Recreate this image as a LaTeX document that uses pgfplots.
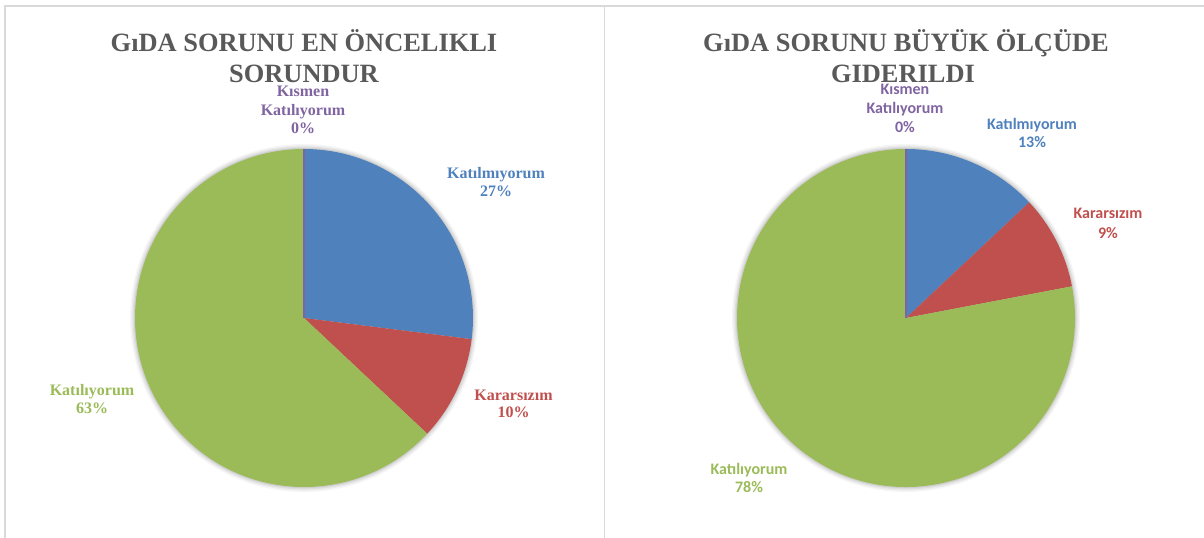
\documentclass[border=0pt]{standalone}
\usepackage{fontspec}
\setmainfont{Liberation Serif}
\newfontfamily\carl{Carlito}
\usepackage{pgfplots}
\pgfplotsset{compat=1.18}
\definecolor{pblue}{HTML}{4F81BD}
\definecolor{pred}{HTML}{C0504D}
\definecolor{pgreen}{HTML}{9BBB59}
\definecolor{ppurple}{HTML}{8064A2}
\definecolor{titlegray}{HTML}{595959}
\definecolor{bordergray}{HTML}{D9D9D9}
% slice: #1 = cumulative percent before, #2 = percent, #3 = colour
\newcommand\slice[3]{%
  \pgfmathsetmacro\sa{90-3.6*(#1)}%
  \pgfmathsetmacro\ea{90-3.6*(#1+#2)}%
  \edef\tmp{\noexpand\fill[#3] (axis cs:0,0) -- (axis cs:{169*cos(\sa)},{169*sin(\sa)}) arc[start angle=\sa, end angle=\ea, radius=126.75pt] -- cycle;}\tmp}
\newcommand\zeroslice[2]{%
  \pgfmathsetmacro\sa{90-3.6*(#1)}%
  \edef\tmp{\noexpand\draw[#2, line width=0.9pt] (axis cs:0,0) -- (axis cs:{169*cos(\sa)},{169*sin(\sa)});}\tmp}
\newcommand\pieshadow{%
  \fill[black,opacity=0.035] (axis cs:0,0) circle[radius=130.5pt];
  \fill[black,opacity=0.045] (axis cs:0,0) circle[radius=129.5pt];
  \fill[black,opacity=0.055] (axis cs:0,0) circle[radius=128.5pt];
  \fill[black,opacity=0.07] (axis cs:0,0) circle[radius=127.6pt];}
\pgfplotsset{pieaxis/.style={anchor=center, x=0.75pt, y=0.75pt,
  xmin=-180, xmax=180, ymin=-180, ymax=180, hide axis, clip=false}}
\begin{document}
\begin{tikzpicture}[x=0.75pt,y=0.75pt]
\path[use as bounding box] (0,0) rectangle (1204,538);
\draw[bordergray, line width=1.1pt] (5,0) -- (5,532) -- (1204,532);
\draw[bordergray, line width=1.1pt] (604.5,0) -- (604.5,532);

% ---------- pie 1 ----------
\begin{axis}[pieaxis, at={(304,220)}]
\pieshadow
\slice{0}{27}{pblue}
\slice{27}{10}{pred}
\slice{37}{63}{pgreen}
\zeroslice{100}{ppurple}
\end{axis}

% ---------- pie 2 ----------
\begin{axis}[pieaxis, at={(906,220)}]
\pieshadow
\slice{0}{13}{pblue}
\slice{13}{9}{pred}
\slice{22}{78}{pgreen}
\zeroslice{100}{ppurple}
\end{axis}

% titles
\tikzset{ttl/.style={anchor=base, inner sep=0pt, text=titlegray, font=\fontsize{19.8}{23}\selectfont\bfseries}}
\node[ttl] at (304,486) {GıDA SORUNU EN ÖNCELIKLI};
\node[ttl] at (304,455) {SORUNDUR};
\node[ttl] at (906,486) {GıDA SORUNU BÜYÜK ÖLÇÜDE};
\node[ttl] at (903,455) {GIDERILDI};

% labels pie 1 (serif)
\tikzset{la/.style={anchor=base, inner sep=0pt, font=\fontsize{12}{14}\selectfont\bfseries}}
\node[la, text=ppurple] at (303,441) {Kısmen};
\node[la, text=ppurple] at (303,422) {Katılıyorum};
\node[la, text=ppurple] at (303,404) {0\%};
\node[la, text=pblue] at (496,359) {Katılmıyorum};
\node[la, text=pblue] at (496,341) {27\%};
\node[la, text=pred] at (513.5,137) {Kararsızım};
\node[la, text=pred] at (513.5,120) {10\%};
\node[la, text=pgreen] at (92,142) {Katılıyorum};
\node[la, text=pgreen] at (92,124) {63\%};

% labels pie 2 (sans)
\tikzset{lb/.style={anchor=base, inner sep=0pt, font=\fontsize{12}{14}\selectfont\carl\bfseries}}
\node[lb, text=ppurple] at (905,443) {Kısmen};
\node[lb, text=ppurple] at (905,424) {Katılıyorum};
\node[lb, text=ppurple] at (905,405) {0\%};
\node[lb, text=pblue] at (1032,408) {Katılmıyorum};
\node[lb, text=pblue] at (1032,390) {13\%};
\node[lb, text=pred] at (1108,319) {Kararsızım};
\node[lb, text=pred] at (1108,299) {9\%};
\node[lb, text=pgreen] at (749,63) {Katılıyorum};
\node[lb, text=pgreen] at (749,45) {78\%};
\end{tikzpicture}
\end{document}
